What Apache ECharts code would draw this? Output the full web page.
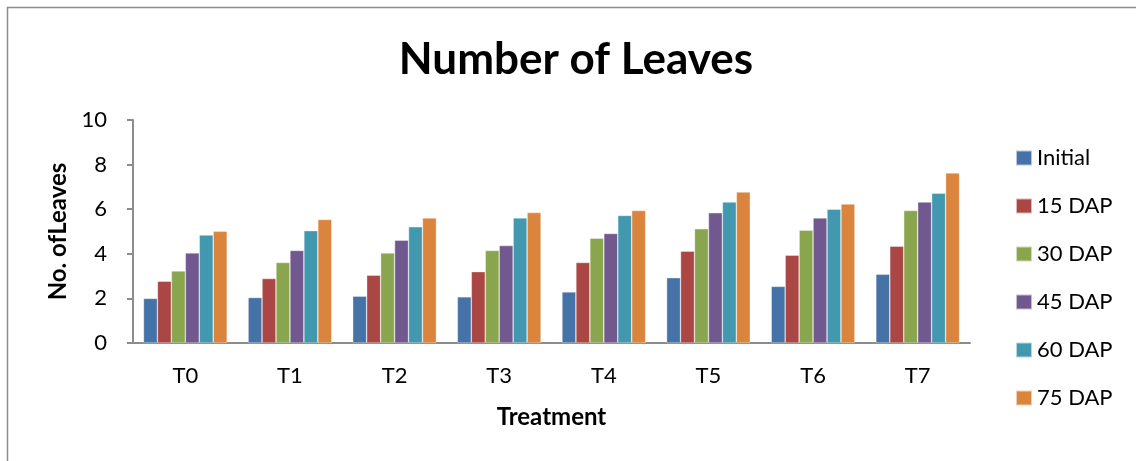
<!DOCTYPE html>
<html>
<head>
<meta charset="utf-8">
<script src="https://cdn.jsdelivr.net/npm/echarts@6/dist/echarts.min.js"></script>
<style>html,body{margin:0;padding:0;background:#fff;}#c{width:1136px;height:461px;}</style>
</head>
<body>
<div id="c"></div>
<script>
const categories = ['T0','T1','T2','T3','T4','T5','T6','T7'];
const seriesNames = ['Initial','15 DAP','30 DAP','45 DAP','60 DAP','75 DAP'];
const initial = [2.0, 2.04, 2.10, 2.07, 2.29, 2.93, 2.54, 3.08];
const dap15   = [2.77, 2.89, 3.04, 3.20, 3.61, 4.12, 3.94, 4.34];
const dap30   = [3.23, 3.61, 4.04, 4.15, 4.70, 5.12, 5.06, 5.94];
const dap45   = [4.04, 4.15, 4.61, 4.37, 4.91, 5.84, 5.61, 6.32];
const dap60   = [4.84, 5.04, 5.21, 5.61, 5.72, 6.32, 6.00, 6.72];
const dap75   = [5.01, 5.54, 5.61, 5.85, 5.94, 6.77, 6.23, 7.63];
const yTicks = [0, 2, 4, 6, 8, 10];
const colors = ['#4572A7','#AA4643','#89A54E','#71588F','#4198AF','#DB843D'];
const allData = [initial, dap15, dap30, dap45, dap60, dap75];
const font = 'Lato, "Open Sans", sans-serif';

const chart = echarts.init(document.getElementById('c'));
chart.setOption({
  animation: false,
  backgroundColor: '#fff',
  color: colors,
  graphic: [{
    type: 'rect', shape: {x: 7.5, y: 7.5, width: 1140, height: 470},
    style: {fill: 'none', stroke: '#8c8c8c', lineWidth: 1.5}, silent: true
  }],
  title: {
    text: 'Number of Leaves', left: 571, top: 33, textAlign: 'center',
    textStyle: {fontFamily: font, fontWeight: 'bold', fontSize: 44, color: '#000'}
  },
  grid: {left: 133, right: 166, top: 120, bottom: 118},
  legend: {
    orient: 'vertical', left: 1010, top: 142, itemWidth: 16, itemHeight: 15, itemGap: 26,
    icon: 'rect',
    textStyle: {fontFamily: font, fontSize: 22, color: '#000', lineHeight: 22},
    data: seriesNames
  },
  xAxis: {
    type: 'category', data: categories,
    name: 'Treatment', nameLocation: 'middle', nameGap: 62,
    nameTextStyle: {fontFamily: font, fontWeight: 'bold', fontSize: 24, color: '#000'},
    axisLine: {lineStyle: {color: '#8c8c8c', width: 2}},
    axisTick: {show: false},
    axisLabel: {fontFamily: font, fontSize: 22, color: '#000', margin: 22}
  },
  yAxis: {
    type: 'value', min: 0, max: 10, interval: 2,
    name: 'No. ofLeaves', nameLocation: 'middle', nameGap: 52, nameRotate: 90,
    nameTextStyle: {fontFamily: font, fontWeight: 'bold', fontSize: 24, color: '#000'},
    axisLine: {show: true, lineStyle: {color: '#8c8c8c', width: 2}},
    axisTick: {show: true, length: 6, lineStyle: {color: '#8c8c8c', width: 2}},
    splitLine: {show: false},
    axisLabel: {fontFamily: font, fontSize: 22, color: '#000', margin: 26,
      formatter: v => yTicks.includes(v) ? String(v) : ''}
  },
  series: seriesNames.map((n, i) => ({
    name: n, type: 'bar', data: allData[i],
    barGap: '0%', barCategoryGap: '20%',
    itemStyle: {color: colors[i], borderColor: 'rgba(255,255,255,0.6)', borderWidth: 0.6}
  }))
});
</script>
</body>
</html>
